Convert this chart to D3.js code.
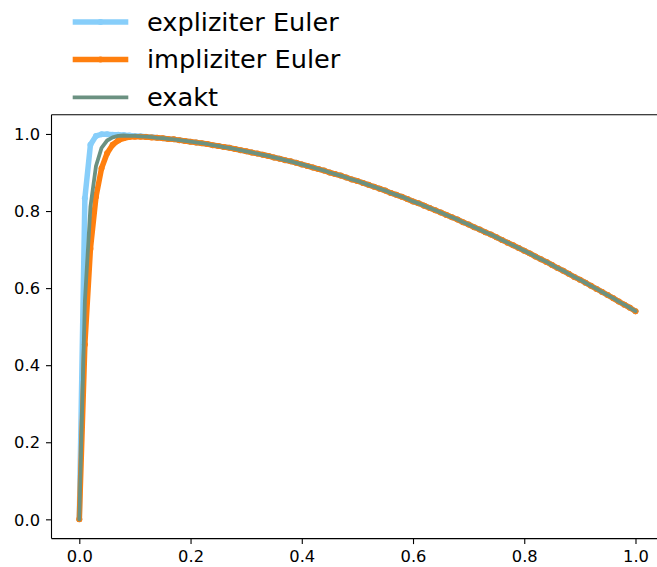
<!DOCTYPE html>
<html>
<head>
<meta charset="utf-8">
<script src="https://cdn.jsdelivr.net/npm/d3@7"></script>
<style>
  html, body { margin: 0; padding: 0; background: #fff; }
  svg { display: block; }
  text { font-family: "DejaVu Sans", sans-serif; fill: #000; }
</style>
</head>
<body>
<svg id="chart" width="657" height="567"></svg>
<script>
// Time grid, step 0.01 on [0, 1]
const tValues = [
  0.00, 0.01, 0.02, 0.03, 0.04, 0.05, 0.06, 0.07, 0.08, 0.09,
  0.10, 0.11, 0.12, 0.13, 0.14, 0.15, 0.16, 0.17, 0.18, 0.19,
  0.20, 0.21, 0.22, 0.23, 0.24, 0.25, 0.26, 0.27, 0.28, 0.29,
  0.30, 0.31, 0.32, 0.33, 0.34, 0.35, 0.36, 0.37, 0.38, 0.39,
  0.40, 0.41, 0.42, 0.43, 0.44, 0.45, 0.46, 0.47, 0.48, 0.49,
  0.50, 0.51, 0.52, 0.53, 0.54, 0.55, 0.56, 0.57, 0.58, 0.59,
  0.60, 0.61, 0.62, 0.63, 0.64, 0.65, 0.66, 0.67, 0.68, 0.69,
  0.70, 0.71, 0.72, 0.73, 0.74, 0.75, 0.76, 0.77, 0.78, 0.79,
  0.80, 0.81, 0.82, 0.83, 0.84, 0.85, 0.86, 0.87, 0.88, 0.89,
  0.90, 0.91, 0.92, 0.93, 0.94, 0.95, 0.96, 0.97, 0.98, 0.99,
  1.00
];

// Explicit Euler approximation
const explicitEuler = [
  0.000, 0.833, 0.972, 0.995, 0.999, 0.999, 0.998, 0.998, 0.997, 0.996,
  0.995, 0.994, 0.993, 0.992, 0.990, 0.989, 0.987, 0.986, 0.984, 0.982,
  0.980, 0.978, 0.976, 0.974, 0.971, 0.969, 0.966, 0.964, 0.961, 0.958,
  0.955, 0.952, 0.949, 0.946, 0.943, 0.939, 0.936, 0.932, 0.929, 0.925,
  0.921, 0.917, 0.913, 0.909, 0.905, 0.900, 0.896, 0.892, 0.887, 0.882,
  0.878, 0.873, 0.868, 0.863, 0.858, 0.853, 0.847, 0.842, 0.837, 0.831,
  0.825, 0.820, 0.814, 0.808, 0.802, 0.796, 0.790, 0.784, 0.778, 0.771,
  0.765, 0.758, 0.752, 0.745, 0.739, 0.732, 0.725, 0.718, 0.711, 0.704,
  0.697, 0.690, 0.682, 0.675, 0.668, 0.660, 0.652, 0.645, 0.637, 0.629,
  0.622, 0.614, 0.606, 0.598, 0.590, 0.582, 0.574, 0.565, 0.557, 0.549,
  0.540
];

// Implicit Euler approximation
const implicitEuler = [
  0.000, 0.454, 0.702, 0.837, 0.911, 0.950, 0.972, 0.983, 0.989, 0.992,
  0.993, 0.993, 0.992, 0.991, 0.990, 0.989, 0.987, 0.986, 0.984, 0.982,
  0.980, 0.978, 0.976, 0.974, 0.971, 0.969, 0.966, 0.964, 0.961, 0.958,
  0.955, 0.952, 0.949, 0.946, 0.943, 0.939, 0.936, 0.932, 0.929, 0.925,
  0.921, 0.917, 0.913, 0.909, 0.905, 0.900, 0.896, 0.892, 0.887, 0.882,
  0.878, 0.873, 0.868, 0.863, 0.858, 0.853, 0.847, 0.842, 0.837, 0.831,
  0.825, 0.820, 0.814, 0.808, 0.802, 0.796, 0.790, 0.784, 0.778, 0.771,
  0.765, 0.758, 0.752, 0.745, 0.739, 0.732, 0.725, 0.718, 0.711, 0.704,
  0.697, 0.690, 0.682, 0.675, 0.668, 0.660, 0.652, 0.645, 0.637, 0.629,
  0.622, 0.614, 0.606, 0.598, 0.590, 0.582, 0.574, 0.565, 0.557, 0.549,
  0.540
];

// Exact solution
const exactSolution = [
  0.000, 0.565, 0.811, 0.917, 0.964, 0.983, 0.991, 0.995, 0.996, 0.995,
  0.995, 0.994, 0.993, 0.992, 0.990, 0.989, 0.987, 0.986, 0.984, 0.982,
  0.980, 0.978, 0.976, 0.974, 0.971, 0.969, 0.966, 0.964, 0.961, 0.958,
  0.955, 0.952, 0.949, 0.946, 0.943, 0.939, 0.936, 0.932, 0.929, 0.925,
  0.921, 0.917, 0.913, 0.909, 0.905, 0.900, 0.896, 0.892, 0.887, 0.882,
  0.878, 0.873, 0.868, 0.863, 0.858, 0.853, 0.847, 0.842, 0.837, 0.831,
  0.825, 0.820, 0.814, 0.808, 0.802, 0.796, 0.790, 0.784, 0.778, 0.771,
  0.765, 0.758, 0.752, 0.745, 0.739, 0.732, 0.725, 0.718, 0.711, 0.704,
  0.697, 0.690, 0.682, 0.675, 0.668, 0.660, 0.652, 0.645, 0.637, 0.629,
  0.622, 0.614, 0.606, 0.598, 0.590, 0.582, 0.574, 0.565, 0.557, 0.549,
  0.540
];

const xTicks = [0.0, 0.2, 0.4, 0.6, 0.8, 1.0];
const yTicks = [0.0, 0.2, 0.4, 0.6, 0.8, 1.0];

const seriesLabels = ["expliziter Euler", "impliziter Euler", "exakt"];

const series = [
  { label: seriesLabels[0], values: explicitEuler, color: "#87cefa", width: 5.5, marker: 3.0 },
  { label: seriesLabels[1], values: implicitEuler, color: "#ff7f0e", width: 5.5, marker: 3.0 },
  { label: seriesLabels[2], values: exactSolution, color: "#6b9181", width: 3.8, marker: 0 }
];

const svg = d3.select("#chart");
svg.append("rect").attr("width", 657).attr("height", 567).attr("fill", "#fff");

const plot = { left: 51.5, top: 114.7, bottom: 538.6, right: 663.3 };

const x = d3.scaleLinear().domain([-0.05, 1.05]).range([plot.left, plot.right]);
const y = d3.scaleLinear().domain([-0.05, 1.05]).range([plot.bottom, plot.top]);

svg.append("defs").append("clipPath").attr("id", "plot-clip")
  .append("rect")
  .attr("x", plot.left).attr("y", plot.top)
  .attr("width", plot.right - plot.left).attr("height", plot.bottom - plot.top);

const lines = svg.append("g").attr("clip-path", "url(#plot-clip)");
const line = d3.line().x((d, i) => x(tValues[i])).y(d => y(d));

series.forEach(s => {
  lines.append("path")
    .datum(s.values)
    .attr("d", line)
    .attr("fill", "none")
    .attr("stroke", s.color)
    .attr("stroke-width", s.width)
    .attr("stroke-linejoin", "round")
    .attr("stroke-linecap", "round");
  if (s.marker > 0) {
    lines.append("g").selectAll("circle")
      .data(s.values)
      .join("circle")
      .attr("cx", (d, i) => x(tValues[i]))
      .attr("cy", d => y(d))
      .attr("r", s.marker)
      .attr("fill", s.color);
  }
});

// Axes
const tickFmt = d3.format(".1f");
const xAxis = svg.append("g")
  .attr("transform", `translate(0,${plot.bottom})`)
  .call(d3.axisBottom(x).tickValues(xTicks).tickFormat(tickFmt).tickSize(5.5).tickPadding(6).tickSizeOuter(0));
const yAxis = svg.append("g")
  .attr("transform", `translate(${plot.left},0)`)
  .call(d3.axisLeft(y).tickValues(yTicks).tickFormat(tickFmt).tickSize(5.5).tickPadding(6).tickSizeOuter(0));

[xAxis, yAxis].forEach(g => {
  g.select(".domain").remove();
  g.selectAll(".tick line").attr("stroke", "#000").attr("stroke-width", 1.1);
  g.selectAll(".tick text")
    .attr("font-family", "DejaVu Sans, sans-serif")
    .attr("font-size", 16.3)
    .attr("fill", "#000");
});
yAxis.selectAll(".tick text").attr("dy", "0.35em");

// Spines
const spines = svg.append("g").attr("stroke", "#000").attr("stroke-width", 1.1).attr("fill", "none");
spines.append("line").attr("x1", plot.left).attr("x2", plot.left).attr("y1", plot.top).attr("y2", plot.bottom);
spines.append("line").attr("x1", plot.left).attr("x2", plot.right).attr("y1", plot.bottom).attr("y2", plot.bottom);
spines.append("line").attr("x1", plot.left).attr("x2", plot.right).attr("y1", plot.top).attr("y2", plot.top);
spines.append("line").attr("x1", plot.right).attr("x2", plot.right).attr("y1", plot.top).attr("y2", plot.bottom);

// Legend above the plot
const legend = svg.append("g");
const rowY = [22, 59.5, 97.3];
series.forEach((s, i) => {
  const g = legend.append("g").attr("transform", `translate(0,${rowY[i]})`);
  g.append("line")
    .attr("x1", 72.7).attr("x2", 128.3)
    .attr("stroke", s.color).attr("stroke-width", s.width);
  if (s.marker > 0) {
    g.append("circle").attr("cx", 100.5).attr("cy", 0).attr("r", s.marker).attr("fill", s.color);
  }
  g.append("text")
    .attr("x", 147)
    .attr("dy", "0.35em")
    .attr("font-size", 25.6)
    .text(s.label);
});
</script>
</body>
</html>
